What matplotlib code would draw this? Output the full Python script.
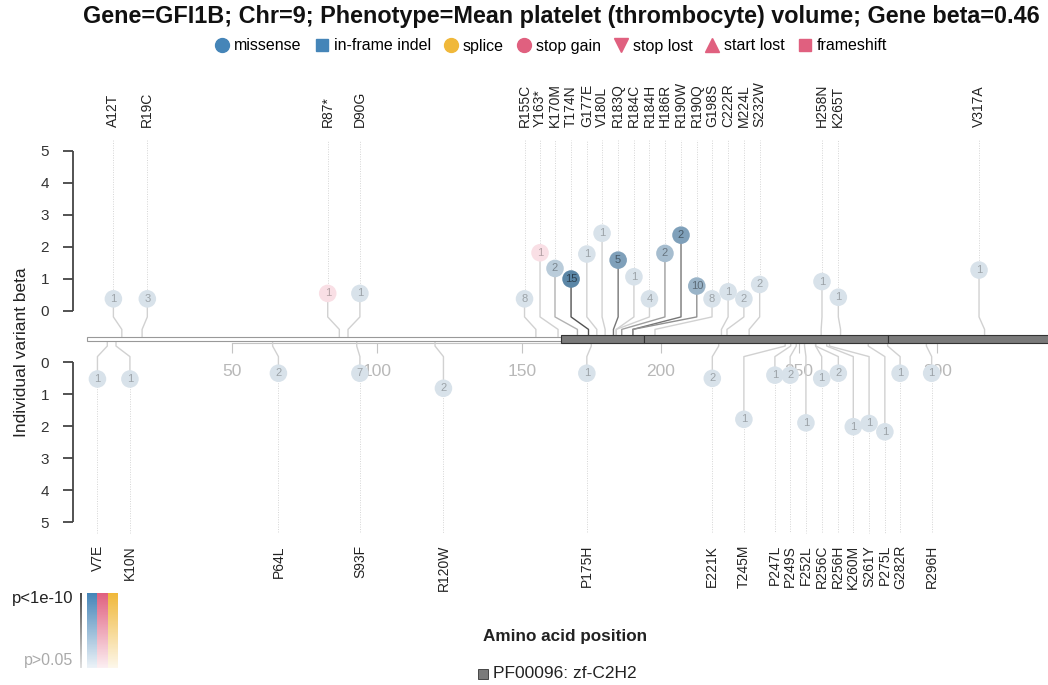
import numpy as np
import matplotlib
matplotlib.use("Agg")
import matplotlib.pyplot as plt
from matplotlib.patches import Rectangle
from matplotlib.lines import Line2D
from matplotlib.colors import to_rgb

plt.rcParams['font.family'] = ['Liberation Sans', 'DejaVu Sans']

# ---------------- DATA ----------------
up_labels = ["A12T", "R19C", "R87*", "D90G", "R155C", "Y163*", "K170M", "T174N", "G177E",
             "V180L", "R183Q", "R184C", "R184H", "H186R", "R190W", "R190Q", "G198S",
             "C222R", "M224L", "S232W", "H258N", "K265T", "V317A"]
up_pos = [12, 19, 87, 90, 155, 163, 170, 174, 177, 180, 183, 184, 184, 186, 190, 190, 198,
          222, 224, 232, 258, 265, 317]
up_xlab = [9.1, 20.8, 83.0, 94.1, 150.9, 156.5, 161.9, 167.7, 173.4, 178.9, 184.7, 190.4,
           196.0, 201.6, 207.4, 213.1, 218.6, 224.4, 230.1, 235.8, 258.3, 264.2, 315.0]
up_beta = [0.38, 0.38, 0.55, 0.55, 0.38, 1.82, 1.33, 1.00, 1.78, 2.43, 1.59, 1.07, 0.38,
           1.80, 2.37, 0.78, 0.38, 0.60, 0.38, 0.83, 0.92, 0.43, 1.28]
up_n = [1, 3, 1, 1, 8, 1, 2, 15, 1, 1, 5, 1, 4, 2, 2, 10, 8, 1, 2, 2, 1, 1, 1]
up_type = ["missense", "missense", "stop gain", "missense", "missense", "stop gain"] + ["missense"] * 17
up_mlogp = [0.5, 0.5, 0.5, 0.5, 0.5, 0.5, 3.0, 8.3, 0.5, 0.5, 6.3, 0.5, 0.5, 4.1, 6.3, 4.8,
            0.5, 0.5, 0.5, 0.5, 0.5, 0.5, 0.5]

dn_labels = ["V7E", "K10N", "P64L", "S93F", "R120W", "P175H", "E221K", "T245M", "P247L",
             "P249S", "F252L", "R256C", "R256H", "K260M", "S261Y", "P275L", "G282R", "R296H"]
dn_pos = [7, 10, 64, 93, 120, 175, 221, 245, 247, 249, 252, 256, 256, 260, 261, 275, 282, 296]
dn_xlab = [3.6, 14.8, 66.0, 94.1, 122.9, 173.4, 218.7, 230.1, 241.3, 246.8, 252.5, 258.2,
           264.2, 269.6, 275.3, 281.0, 286.5, 297.9]
dn_beta = [0.53, 0.53, 0.35, 0.35, 0.82, 0.35, 0.51, 1.79, 0.41, 0.41, 1.90, 0.51, 0.35,
           2.02, 1.92, 2.18, 0.35, 0.35]
dn_n = [1, 1, 2, 7, 2, 1, 2, 1, 1, 2, 1, 1, 2, 1, 1, 1, 1, 1]
dn_type = ["missense"] * 18
dn_mlogp = [0.5] * 18

dom_start = [164, 194, 282]
dom_end = [194, 282, 345]
protein_start = 0

x_ticks = [50, 100, 150, 200, 250, 300]
beta_ticks = [0, 1, 2, 3, 4, 5]

type_colors = {"missense": "#4585b8", "in-frame indel": "#4585b8", "splice": "#f0b83a",
               "stop gain": "#e0607f", "stop lost": "#e0607f", "start lost": "#e0607f",
               "frameshift": "#e0607f"}
type_markers = {"missense": "o", "in-frame indel": "s", "splice": "o", "stop gain": "o",
                "stop lost": "v", "start lost": "^", "frameshift": "s"}
# circle colours are a little greyer than the legend swatches
circle_colors = {"missense": "#3d6f96", "stop gain": "#e0607f"}

# -------- layout (plot units) --------
up_off = 0.875      # beta 0 (upper) relative to backbone
dn_off = 0.72       # beta 0 (lower)


def fwd(x):
    x = np.asarray(x, dtype=float)
    return np.where(x < 150, x, 150 + (x - 150) * 0.955)


def inv(x):
    x = np.asarray(x, dtype=float)
    return np.where(x < 150, x, 150 + (x - 150) / 0.955)


def shade(mlogp):
    return float(np.clip((mlogp - 1.3) / 8.7, 0, 1))


def blend(c, f):
    c = np.array(to_rgb(c))
    return tuple(1 - f * (1 - c))


fig = plt.figure(figsize=(10.48, 6.85), dpi=100)
ax = fig.add_axes([72.5 / 1048, 105 / 685, 975.5 / 1048, 520 / 685])
ax.set_xscale('function', functions=(fwd, inv))
ax.set_xlim(-5, 339.9)
ax.set_ylim(-7.53125, 8.71875)
for s in ["top", "right", "left"]:
    ax.spines[s].set_visible(False)

# backbone and domains
ax.add_patch(Rectangle((protein_start, -0.05), dom_start[0] - protein_start, 0.1,
                       facecolor="white", edgecolor="#999999", lw=0.8, zorder=4))
for a, b in zip(dom_start, dom_end):
    ax.add_patch(Rectangle((a, -0.14), b - a, 0.28, facecolor="#7a7a7a",
                           edgecolor="#333333", lw=0.8, zorder=4))

# x axis
ax.spines["bottom"].set_position(("data", -0.12))
ax.spines["bottom"].set_bounds(x_ticks[0], x_ticks[-1])
ax.spines["bottom"].set_color("#c4c4c4")
ax.set_xticks(x_ticks)
ax.set_xticklabels([str(t) for t in x_ticks])
ax.tick_params(axis="x", direction="out", length=7.5, width=0.8, color="#c4c4c4",
               labelcolor="#b8b8b8", labelsize=12.5, pad=8)

# y axis (two segments)
yt = [up_off + k for k in beta_ticks] + [-(dn_off + k) for k in beta_ticks]
ax.set_yticks(yt)
ax.set_yticklabels([str(k) for k in beta_ticks] * 2)
ax.tick_params(axis="y", direction="out", length=7, width=1.3, color="#444444",
               labelcolor="#333333", labelsize=11, pad=10)
for y0, y1 in [(up_off, up_off + 5), (-dn_off, -dn_off - 5)]:
    ax.plot([0, 0], [y0, y1], transform=ax.get_yaxis_transform(), color="#444444",
            lw=1.3, clip_on=False, solid_capstyle="butt")


def draw_side(labels, pos, xlab, beta, n, vtype, mlogp, up):
    for lab, p, xl, b, k, t, m in zip(labels, pos, xlab, beta, n, vtype, mlogp):
        s = shade(m)
        col = blend(circle_colors[t], 0.2 + 0.8 * s)
        stem = str(0.82 - 0.62 * s)
        if up:
            yc = b + up_off
            ax.plot([xl, xl, p, p], [yc, 0.69, 0.3, 0.0], color=stem, lw=1.0, zorder=3)
            ax.plot([xl, xl], [yc, 6.22], color="#d5d5d5", lw=0.7, ls=(0, (1, 1.5)), zorder=2)
            ax.text(xl, 6.62, lab, rotation=90, ha="center", va="bottom", fontsize=10,
                    color="#222222")
        else:
            yc = -(b + dn_off)
            ax.plot([p, p, xl, xl], [0.0, -0.22, -0.55, yc], color=stem, lw=1.0, zorder=3)
            ax.plot([xl, xl], [yc, -6.06], color="#d5d5d5", lw=0.7, ls=(0, (1, 1.5)), zorder=2)
            ax.text(xl, -6.44, lab, rotation=90, ha="center", va="top", fontsize=10,
                    color="#222222")
        ax.scatter([xl], [yc], s=160, color=[col], edgecolors="none",
                   marker=type_markers[t], zorder=5)
        tc = tuple(np.array(col) * (0.72 - 0.3 * s))
        ax.text(xl, yc, str(k), ha="center", va="center", fontsize=8, color=tc, zorder=6)


draw_side(up_labels, up_pos, up_xlab, up_beta, up_n, up_type, up_mlogp, True)
draw_side(dn_labels, dn_pos, dn_xlab, dn_beta, dn_n, dn_type, dn_mlogp, False)

fig.text(22 / 1048, 1 - 352 / 685, "Individual variant beta", rotation=90,
         ha="center", va="center", fontsize=12.5, color="#222222")

# title and legend
fig.text(561 / 1048, 1 - 16 / 685,
         "Gene=GFI1B; Chr=9; Phenotype=Mean platelet (thrombocyte) volume; Gene beta=0.46",
         ha="center", va="center", fontsize=16.8, weight="bold", color="#111111")
handles = [Line2D([], [], ls="", marker=type_markers[k], color=type_colors[k],
                  markersize=10 if type_markers[k] in "ov^" else 8.5, label=k)
           for k in type_colors]
fig.legend(handles=handles, loc="center", bbox_to_anchor=(550 / 1048, 1 - 46 / 685),
           ncol=7, frameon=False, fontsize=11.5, handletextpad=0.15, columnspacing=0.65,
           handlelength=1.2, borderpad=0)

# p-value colour bar
cax = fig.add_axes([87 / 1048, 17 / 685, 31 / 1048, 75 / 685])
grad = np.linspace(1.0, 0.1, 120)
img = np.stack([np.array([blend(c, f) for f in grad])
                for c in ["#4585b8", "#e0607f", "#f0b83a"]], axis=1)
cax.imshow(img, aspect="auto", interpolation="nearest")
cax.axis("off")
gax = fig.add_axes([80 / 1048, 17 / 685, 2 / 1048, 75 / 685])
ggrad = np.linspace(0.3, 0.88, 120)
gax.imshow(np.repeat(ggrad[:, None, None], 3, axis=2), aspect="auto",
           interpolation="nearest")
gax.axis("off")
fig.text(73 / 1048, 1 - 598 / 685, "p<1e-10", ha="right", va="center", fontsize=12,
         color="#222222")
fig.text(73 / 1048, 1 - 661 / 685, "p>0.05", ha="right", va="center", fontsize=11.5,
         color="#aaaaaa")

# x label and domain legend
fig.text(565 / 1048, 1 - 637 / 685, "Amino acid position", ha="center", va="center",
         fontsize=12.3, weight="bold", color="#222222")
fig.patches.append(Rectangle((478 / 1048, 1 - 679 / 685), 10 / 1048, 10 / 685,
                             facecolor="#7a7a7a", edgecolor="#333333", lw=0.6,
                             transform=fig.transFigure, figure=fig))
fig.text(493 / 1048, 1 - 674 / 685, "PF00096: zf-C2H2", ha="left", va="center",
         fontsize=12.5, color="#222222")

fig.savefig("out.png", dpi=100)
